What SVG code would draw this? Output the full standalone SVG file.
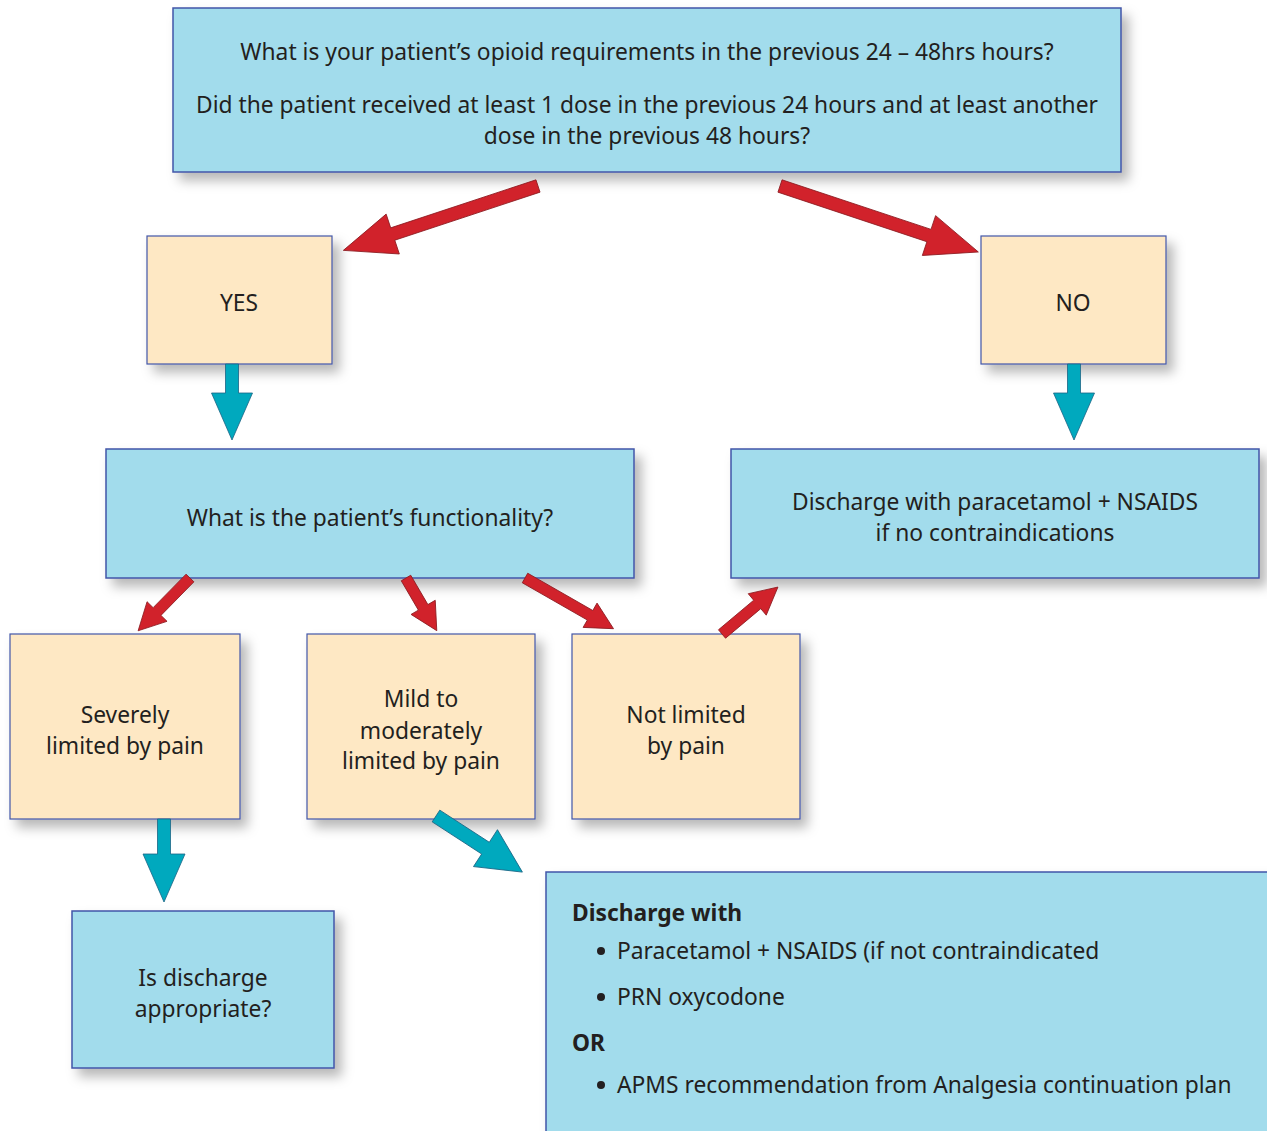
<svg xmlns="http://www.w3.org/2000/svg" width="1267" height="1131" viewBox="0 0 1267 1131">
<defs>
<filter id="sh" x="-10%" y="-10%" width="130%" height="140%">
<feDropShadow dx="7" dy="8" stdDeviation="6" flood-color="#000" flood-opacity="0.28"/>
</filter>
<style>
.q{fill:#a2dcec;stroke:#4256a8;stroke-width:1.5;filter:url(#sh)}
.a{fill:#fee8c4;stroke:#4256a8;stroke-width:1.2;filter:url(#sh)}
text{font-family:"Noto Sans","Open Sans","Liberation Sans",sans-serif;font-size:22.8px;fill:#231f20}
.c{text-anchor:middle}
.b{font-weight:bold}
.r{fill:#d1222b;stroke:#8c1c22;stroke-width:0.8}
.t{fill:#00a9be;stroke:#1a6585;stroke-width:0.8}
</style>
</defs>
<rect width="1267" height="1131" fill="#fff"/>

<g id="top"><rect class="q" x="173" y="8" width="948" height="164"/>
<text class="c" x="647" y="60">What is your patient’s opioid requirements in the previous 24 – 48hrs hours?</text>
<text class="c" x="647" y="113">Did the patient received at least 1 dose in the previous 24 hours and at least another</text>
<text class="c" x="647" y="144">dose in the previous 48 hours?</text></g>

<g id="yes"><rect class="a" x="147" y="236" width="185" height="128"/><text class="c" x="239" y="311">YES</text></g>
<g id="no"><rect class="a" x="981" y="236" width="185" height="128"/><text class="c" x="1073" y="311">NO</text></g>

<g id="func"><rect class="q" x="106" y="449" width="528" height="129"/><text class="c" x="370" y="526">What is the patient’s functionality?</text></g>
<g id="dis1"><rect class="q" x="731" y="449" width="528" height="129"/>
<text class="c" x="995" y="510">Discharge with paracetamol + NSAIDS</text>
<text class="c" x="995" y="541">if no contraindications</text></g>

<g id="severe"><rect class="a" x="10" y="634" width="230" height="185"/>
<text class="c" x="125" y="723">Severely</text><text class="c" x="125" y="754">limited by pain</text></g>
<g id="mild"><rect class="a" x="307" y="634" width="228" height="185"/>
<text class="c" x="421" y="707">Mild to</text><text class="c" x="421" y="739">moderately</text><text class="c" x="421" y="769">limited by pain</text></g>
<g id="notlim"><rect class="a" x="572" y="634" width="228" height="185"/>
<text class="c" x="686" y="723">Not limited</text><text class="c" x="686" y="754">by pain</text></g>

<g id="isdis"><rect class="q" x="72" y="911" width="262" height="157"/>
<text class="c" x="203" y="986">Is discharge</text><text class="c" x="203" y="1017">appropriate?</text></g>

<g id="dis2"><rect class="q" x="546" y="872" width="740" height="280"/>
<text class="b" x="572" y="921">Discharge with</text>
<circle cx="601" cy="951" r="4" fill="#231f20"/><text x="617" y="959">Paracetamol + NSAIDS (if not contraindicated</text>
<circle cx="601" cy="997" r="4" fill="#231f20"/><text x="617" y="1005">PRN oxycodone</text>
<text class="b" x="572" y="1051">OR</text>
<circle cx="601" cy="1085" r="4" fill="#231f20"/><text x="617" y="1093">APMS recommendation from Analgesia continuation plan</text></g>

<g id="connectors">
<polygon class="r" transform="translate(538,186) rotate(161.7)" points="0,-6.5 153,-6.5 153,-21 205,0 153,21 153,6.5 0,6.5"/>
<polygon class="r" transform="translate(780,186) rotate(18.4)" points="0,-6.5 157,-6.5 157,-21 209,0 157,21 157,6.5 0,6.5"/>
<polygon class="t" transform="translate(232,364) rotate(90)" points="0,-6.5 29,-6.5 29,-20.5 76,0 29,20.5 29,6.5 0,6.5"/>
<polygon class="t" transform="translate(1074,364) rotate(90)" points="0,-6.5 29,-6.5 29,-20.5 76,0 29,20.5 29,6.5 0,6.5"/>
<polygon class="t" transform="translate(164,819) rotate(90)" points="0,-6.5 35,-6.5 35,-21 83,0 35,21 35,6.5 0,6.5"/>
<polygon class="r" transform="translate(190,578) rotate(134.5)" points="0,-5.5 47,-5.5 47,-14 74,0 47,14 47,5.5 0,5.5"/>
<polygon class="r" transform="translate(406,578) rotate(59.7)" points="0,-5.5 34,-5.5 34,-14 61,0 34,14 34,5.5 0,5.5"/>
<polygon class="r" transform="translate(525,578) rotate(29.8)" points="0,-5.5 75,-5.5 75,-14 102,0 75,14 75,5.5 0,5.5"/>
<polygon class="r" transform="translate(722,634) rotate(-40)" points="0,-5.5 46,-5.5 46,-14 73,0 46,14 46,5.5 0,5.5"/>
<polygon class="t" transform="translate(436,816) rotate(33)" points="0,-7 59,-7 59,-22 103,0 59,22 59,7 0,7"/>
</g>
</svg>
